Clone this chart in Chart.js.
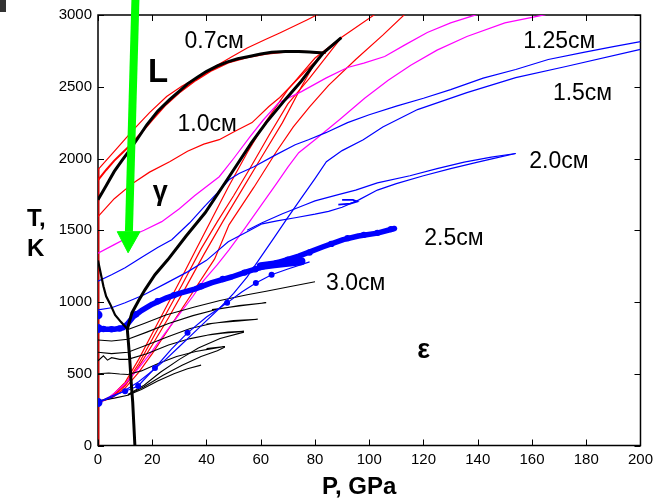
<!DOCTYPE html>
<html>
<head>
<meta charset="utf-8">
<script src="https://cdn.jsdelivr.net/npm/chart.js@4.4.1/dist/chart.umd.min.js"></script>
<style>
html, body { margin: 0; padding: 0; background: #fff; }
canvas { display: block; }
</style>
</head>
<body>
<canvas id="phase" width="658" height="499"></canvas>
<script>
// axis ticks
const xTicks = [0, 20, 40, 60, 80, 100, 120, 140, 160, 180, 200];
const yTicks = [0, 500, 1000, 1500, 2000, 2500, 3000];

// phase boundaries [P GPa, T K]
const meltLine = [[0,1713],[3,1810],[6,1910],[9,1990],[11.8,2062],[15,2150],[18,2235],[22,2330],[26.4,2410],[30,2470],[33,2520],[36.5,2565],[39.9,2606],[44,2645],[47.5,2672],[51.5,2695],[55.7,2711],[60,2728],[64,2740],[69.1,2746],[74,2746],[78,2742],[83,2735]];
const gammaEps = [[13.6,0],[13.2,150],[12.8,300],[12.2,450],[11.7,600],[11.2,720],[10.8,810],[12.5,924],[15,1010],[17.3,1085],[21,1190],[25.7,1294],[32.5,1460],[39.5,1622],[47.6,1852],[56.6,2110],[62,2250],[69,2410],[75,2540],[79,2640],[83,2735],[89.7,2843]];
const alphaGamma = [[0,1290],[1,1200],[2,1110],[3,1040],[4.5,985],[6.3,910],[8.5,860],[10.8,812]];

// red paths (0.7 and 1.0 cm)
const redMelt = [[0,1850],[3,1920],[6,1985],[9,2040],[12,2095],[16,2180],[20,2270],[25,2375],[30,2460],[36,2545],[42,2615],[48,2668],[55,2705],[62,2730],[70,2745],[78,2742],[84,2736]];
const red07 = [[0,1922],[6,2050],[13,2200],[19,2320],[25.3,2432],[31,2505],[37.4,2571],[43,2640],[49.5,2711],[55,2770],[61.7,2829],[67,2875],[72,2920],[77,2965],[81,3003]];
const red10 = [[0,1595],[6,1720],[13,1830],[19,1905],[26.4,1978],[33,2050],[39,2100],[44.7,2131],[50.5,2190],[56.8,2250],[63,2362],[67,2425],[75,2580],[83,2730],[89.7,2843]];
const redA = [[0,300],[5,345],[10,440],[15,600],[20,780],[25,960],[30,1140],[36,1360],[42,1580],[48,1800],[55,2040],[62,2260],[70,2480],[80,2700],[89.7,2843]];
const redB = [[0,300],[5,340],[10,425],[15,570],[20,740],[25,915],[31,1120],[38,1370],[44,1560],[50,1740],[56,1930],[63,2160],[70,2380],[78,2560],[89.7,2843]];
const redC = [[0,300],[5,335],[10,415],[15,550],[20,700],[26,890],[32,1090],[39,1330],[46,1560],[53,1780],[60,2000],[68,2250],[75,2500],[81,2700],[89.7,2843],[102,3003]];
const redD = [[0,300],[5,330],[10,400],[15,510],[20,640],[27,840],[35,1070],[43,1300],[48.3,1538],[57.5,1800],[65.5,2040],[72,2220],[78,2360],[85,2510],[95,2690],[105,2860],[113,3003]];

// magenta paths (1.25 cm)
const magUpper = [[0,1340],[6,1400],[11,1450],[17,1500],[23.5,1560],[30,1650],[35.6,1740],[44.7,1873],[50,2000],[56,2150],[61,2270],[66.6,2389],[75,2466],[84,2560],[92,2634],[98,2665],[105.7,2711],[113,2790],[121.4,2878],[130,2945],[139.6,3003]];
const magLower = [[0,300],[3,320],[6,365],[10,430],[15,540],[20,660],[25,790],[30,915],[35,1040],[39,1150],[44,1260],[48.3,1364],[54,1510],[60,1670],[66,1830],[70,1940],[74,2040],[80,2131],[89,2270],[98.3,2420],[107,2545],[115.3,2650],[125,2755],[136,2850],[150,2945],[165,3003]];

// blue paths (1.5, 2.0, 2.5 cm)
const blueUpper = [[0,1145],[5,1190],[10,1238],[16,1310],[22,1380],[27.2,1434],[33.8,1552],[39.2,1664],[44,1760],[48.3,1852],[52,1895],[57.5,1943],[65,2020],[72.7,2096],[77.6,2131],[84,2180],[92,2250],[100,2305],[110,2365],[120,2420],[130,2480],[142,2560],[154,2620],[166,2690],[179,2740],[190,2780],[200,2815]];
const blueSteep = [[0,300],[5,335],[10,385],[15,445],[20,520],[25,600],[30,690],[35,780],[40,870],[45,960],[50,1060],[55,1175],[59.3,1294],[65,1450],[70,1590],[75,1725],[80,1860],[84.2,1978],[90,2055],[97.8,2131],[105,2220],[117.8,2341],[136,2459],[154,2564],[172.5,2641],[200,2760]];
const blueDotted = [[0,300],[5,345],[10,378],[14.8,415],[21,540],[27,670],[33,785],[40,895],[47.6,994],[53,1070],[58.2,1133],[64,1190],[70,1230],[78,1280]];
const blueDottedMarks = [[10,378],[14.8,415],[21,540],[33,785],[47.6,994],[58.2,1133],[64,1190]];
const blue20Out = [[0,945],[5,960],[10,995],[17,1050],[25,1130],[33,1210],[40,1290],[48,1420],[55,1490],[60.5,1545],[66,1565],[72.7,1587],[80,1612],[85,1632],[90,1660],[96,1710],[103,1780],[110,1825],[120,1880],[130,1930],[140,1975],[148,2010],[154,2035]];
const blue20Back = [[154,2035],[145,2010],[135,1975],[125,1930],[115,1880],[103,1830],[95,1780],[88.6,1748],[80,1705],[76.4,1678],[68,1615],[60.5,1552],[55,1500]];
const blue20Hook = [[88.6,1678],[93,1685],[95.5,1700],[94,1712],[90,1712]];
const blueBand = [[0,815],[3,810],[6,810],[9.3,820],[11,850],[13,897],[16,940],[20,985],[25.3,1029],[30,1060],[35.6,1090],[42,1135],[49.5,1176],[55,1212],[61.7,1250],[68,1285],[74,1320],[83,1385],[90.4,1435],[96,1460],[103,1480],[109.3,1512]];
const blueBandMarks = [[2,812],[5,810],[8,815],[14,915],[22,1005],[28,1048],[38,1110],[46,1160],[54,1205],[58,1228],[63,1258],[66,1272],[70,1295],[78,1345],[86,1405],[92,1445],[98,1468],[103,1482],[108,1508]];
const blueBlobs = [[60,1250],[65,1262],[70,1274],[75,1284]];
const blueEdgeDots = [[0,300],[0,910],[0,815]];

// black thin paths (3.0 cm)
const black1 = [[10.8,806],[17,850],[25,910],[35.6,965],[45,1010],[55,1050],[62,1075],[70,1105],[80,1141]];
const black2 = [[0,735],[5,728],[11,740],[18,790],[26,850],[35,905],[44,950],[52,975],[62,995],[55,980],[45,955],[42,948]];
const black3 = [[0,650],[5,640],[11,650],[18,700],[26,760],[34,815],[42,850],[50,870],[58.9,880],[52,868],[44,855],[40,846]];
const black4 = [[0,590],[2,625],[3.5,595],[5,612],[8,600],[11,600],[18,640],[26,700],[34,745],[42,775],[48,790],[53.8,795],[46,782],[40,768]];
const black5 = [[0,500],[4,505],[8,498],[11,495],[16,520],[22,570],[29,620],[36,655],[42,675],[46.8,690],[40,676]];
const black6 = [[0,310],[6,330],[11,350],[16,390],[22,450],[28,500],[33,535],[38,560]];
const black7 = [[11,352],[17,410],[24,490],[31,560],[38,620],[44,660],[46.8,686]];
const black8 = [[11,356],[17,420],[23,510],[30,600],[37,680],[45,745],[53.8,790]];
const redEdge = [[0,0],[0,1930]];

// green arrow
const arrowShaft = [[13.8,3110],[11.4,1490]];
const arrowHead = [[7.1,1490],[15.5,1490],[11.1,1343],[7.1,1490]];

// text in the plot [text, P, T]
const notes = [
  ['0.7см', 31.9, 2773, 'cm'],
  ['L', 18.4, 2536, 'big'],
  ['1.0см', 29.3, 2194, 'cm'],
  ['γ', 20.2, 1712, 'greek'],
  ['1.25см', 156.8, 2773, 'cm'],
  ['1.5см', 167.7, 2410, 'cm'],
  ['2.0см', 159, 1936, 'cm'],
  ['2.5см', 120.3, 1399, 'cm'],
  ['3.0см', 84.1, 1085, 'cm'],
  ['ε', 117.7, 610, 'greek']
];

const noteFonts = {
  cm: '23px "Liberation Sans", Arial, sans-serif',
  big: 'bold 33px "Liberation Sans", Arial, sans-serif',
  greek: 'bold 27px "Liberation Sans", Arial, sans-serif'
};

const RED = '#ff0000', MAG = '#ff00ff', BLUE = '#0000ff', BLACK = '#000000', GREEN = '#00ff00';

function path(pts, color, width, extra) {
  return Object.assign({
    data: pts.map(p => ({ x: p[0], y: p[1] })),
    borderColor: color,
    backgroundColor: color,
    borderWidth: width,
    pointRadius: 0,
    pointBorderWidth: 0,
    showLine: true,
    fill: false,
    tension: 0
  }, extra || {});
}

// first dataset is drawn on top
const datasets = [
  path(arrowShaft, GREEN, 8, { clip: false }),
  path(arrowHead, GREEN, 1, { fill: 'shape', clip: false }),
  path(meltLine, BLACK, 3),
  path(gammaEps, BLACK, 3),
  path(alphaGamma, BLACK, 2.2),
  path(blueBand, BLUE, 5.5, { borderJoinStyle: 'round', borderCapStyle: 'round' }),
  path(blueBandMarks, BLUE, 0, { showLine: false, pointRadius: 3.2 }),
  path(blueBlobs, BLUE, 8, { borderCapStyle: 'round' }),
  path(blueEdgeDots, BLUE, 0, { showLine: false, pointRadius: 4.5 }),
  path(blueDotted, BLUE, 1.2),
  path(blueDottedMarks, BLUE, 0, { showLine: false, pointRadius: 3 }),
  path(blueSteep, BLUE, 1.2),
  path(blueUpper, BLUE, 1.2),
  path(blue20Out, BLUE, 1.2),
  path(blue20Back, BLUE, 1.2),
  path(blue20Hook, BLUE, 1.8),
  path(black1, BLACK, 1.1),
  path(black2, BLACK, 1.1),
  path(black3, BLACK, 1.1),
  path(black4, BLACK, 1.1),
  path(black5, BLACK, 1.1),
  path(black6, BLACK, 1.1),
  path(black7, BLACK, 1.1),
  path(black8, BLACK, 1.1),
  path(magUpper, MAG, 1.2),
  path(magLower, MAG, 1.2),
  path(redA, RED, 1.2),
  path(redB, RED, 1.2),
  path(redC, RED, 1.2),
  path(redD, RED, 1.2),
  path(red07, RED, 1.2),
  path(red10, RED, 1.2),
  path(redMelt, RED, 2),
  path(redEdge, '#c00000', 3)
];

const frame = {
  id: 'frame',
  beforeDatasetsDraw(chart) {
    const { ctx, chartArea: a } = chart;
    ctx.save();
    ctx.strokeStyle = '#000';
    ctx.lineWidth = 1.5;
    ctx.strokeRect(a.left, a.top, a.right - a.left, a.bottom - a.top);
    ctx.restore();
  },
  afterDraw(chart) {
    const { ctx, chartArea: a, scales: { x, y } } = chart;
    ctx.save();
    ctx.strokeStyle = '#000';
    ctx.lineWidth = 1;
    ctx.beginPath();
    xTicks.forEach(v => {
      const p = Math.round(x.getPixelForValue(v)) + 0.5;
      ctx.moveTo(p, a.bottom); ctx.lineTo(p, a.bottom - 6);
      ctx.moveTo(p, a.top); ctx.lineTo(p, a.top + 6);
    });
    yTicks.forEach(v => {
      const p = Math.round(y.getPixelForValue(v)) + 0.5;
      ctx.moveTo(a.left, p); ctx.lineTo(a.left + 6, p);
      ctx.moveTo(a.right, p); ctx.lineTo(a.right - 6, p);
    });
    ctx.stroke();

    ctx.fillStyle = '#000';
    ctx.textBaseline = 'alphabetic';
    ctx.textAlign = 'left';
    notes.forEach(([t, p, temp, kind]) => {
      ctx.font = noteFonts[kind];
      ctx.fillText(t, x.getPixelForValue(p), y.getPixelForValue(temp));
    });

    // axis titles
    ctx.font = 'bold 24px "Liberation Sans", Arial, sans-serif';
    ctx.fillText('T,', 27, 226);
    ctx.fillText('K', 27, 256);
    ctx.fillText('P, GPa', 322, 494);

    // scrap of a neighbouring figure in the corner
    ctx.fillStyle = '#333';
    ctx.fillRect(0, 0, 6, 12);
    ctx.restore();
  }
};

new Chart(document.getElementById('phase'), {
  type: 'scatter',
  data: { datasets },
  options: {
    responsive: false,
    animation: false,
    devicePixelRatio: 1,
    layout: { padding: { top: 15, right: 13, bottom: 0, left: 0 } },
    plugins: { legend: { display: false }, tooltip: { enabled: false } },
    scales: {
      x: {
        type: 'linear', min: 0, max: 200,
        afterBuildTicks: s => { s.ticks = xTicks.map(v => ({ value: v })); },
        afterFit: s => { s.height = 53.5; },
        grid: { display: false, drawTicks: false },
        border: { display: false },
        ticks: { padding: 5, color: '#000', maxRotation: 0, autoSkip: false,
                 callback: v => String(v),
                 font: { family: '"Liberation Sans", Arial, sans-serif', size: 15 } }
      },
      y: {
        type: 'linear', min: 0, max: 3000,
        afterBuildTicks: s => { s.ticks = yTicks.map(v => ({ value: v })); },
        afterFit: s => { s.width = 98; },
        grid: { display: false, drawTicks: false },
        border: { display: false },
        ticks: { padding: 6, color: '#000', autoSkip: false,
                 callback: v => String(v),
                 font: { family: '"Liberation Sans", Arial, sans-serif', size: 15 } }
      }
    }
  },
  plugins: [frame]
});
</script>
</body>
</html>
